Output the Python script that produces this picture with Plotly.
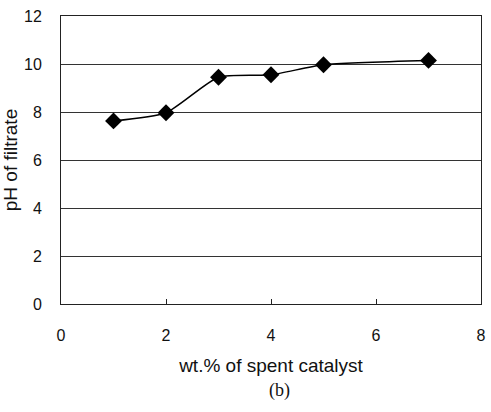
import plotly.graph_objects as go

wt_pct = [1, 2, 3, 4, 5, 7]
ph_filtrate = [7.63, 7.97, 9.45, 9.55, 9.97, 10.15]
x_ticks = [0, 2, 4, 6, 8]
y_ticks = [0, 2, 4, 6, 8, 10, 12]

fig = go.Figure()
fig.add_trace(go.Scatter(
    x=wt_pct, y=ph_filtrate, mode="lines+markers",
    line=dict(color="black", width=1.5, shape="spline", smoothing=0.6),
    marker=dict(symbol="diamond", size=13, color="black"),
    showlegend=False,
))

tick_font = dict(family="Liberation Sans, Arial, sans-serif", size=16, color="#111")
title_font = dict(family="Liberation Sans, Arial, sans-serif", size=19, color="#111")
fig.update_layout(
    width=491, height=412,
    margin=dict(l=61, r=10, t=16, b=108),
    paper_bgcolor="white", plot_bgcolor="white",
    font=tick_font,
    xaxis=dict(range=[0, 8], tickvals=x_ticks, showgrid=False, zeroline=False,
               showline=True, linecolor="#222", linewidth=1, mirror=True,
               ticks="inside", ticklen=5, tickcolor="#222", automargin=False,
               ticklabelstandoff=17, tickfont=tick_font,
               title=dict(text="wt.% of spent catalyst", font=title_font, standoff=15)),
    yaxis=dict(range=[0, 12], tickvals=y_ticks, showgrid=True, gridcolor="#333",
               gridwidth=1, zeroline=False, automargin=False,
               showline=True, linecolor="#222", linewidth=1, mirror=True,
               ticks="", ticklabelstandoff=15, tickfont=tick_font,
               title=dict(text="pH of filtrate", font=title_font, standoff=4)),
    annotations=[dict(text="(b)", x=0.52, xref="paper", y=-0.301, yref="paper",
                      showarrow=False, yanchor="middle",
                      font=dict(family="Liberation Serif, Times New Roman, serif", size=18, color="#111"))],
)
fig.write_html("out.html")
